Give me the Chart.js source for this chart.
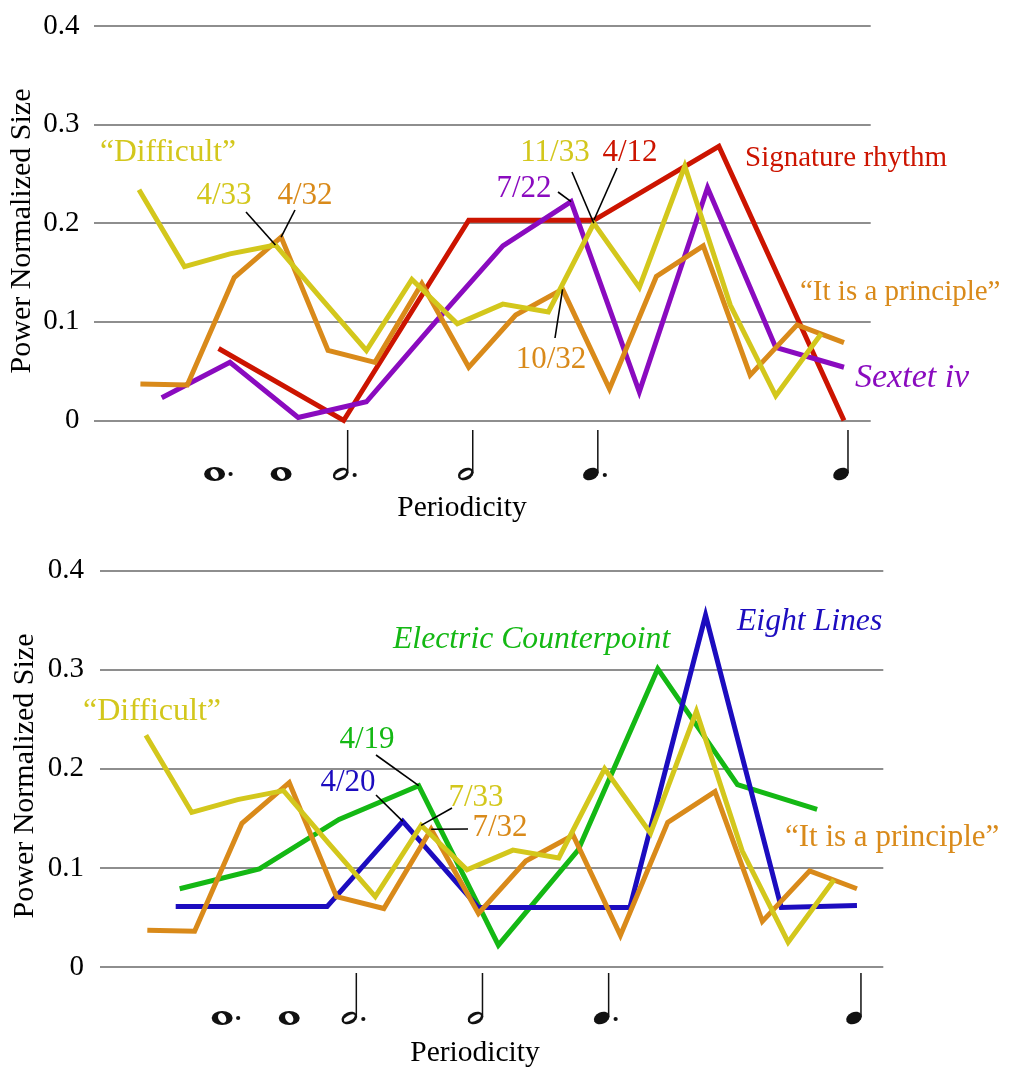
<!DOCTYPE html>
<html><head><meta charset="utf-8">
<script src="https://cdn.jsdelivr.net/npm/chart.js@4.4.0/dist/chart.umd.min.js"></script>
<style>
html,body{margin:0;padding:0;background:#fff;}
#wrap{position:relative;width:1024px;height:1068px;overflow:hidden;}
.box{position:absolute;left:0;width:1024px;height:534px;}
</style></head><body>
<div id="wrap">
<div class="box" style="top:0"><canvas id="c1" width="1024" height="534"></canvas></div>
<div class="box" style="top:534px"><canvas id="c2" width="1024" height="534"></canvas></div>
</div>
<script>
// ---------- data ----------
const yTickLabels = ['0', '0.1', '0.2', '0.3', '0.4'];
// each series: power at frequency index k/N (k = 1..), periodicity axis value = 2k/N
const difficultN = 33;
const difficultVals = [0.234, 0.156, 0.169, 0.178, 0.124, 0.071, 0.143, 0.098, 0.118, 0.110, 0.200, 0.135, 0.258, 0.117, 0.025, 0.088];
const principleN = 32;
const principleVals = [0.037, 0.036, 0.145, 0.186, 0.071, 0.059, 0.139, 0.054, 0.107, 0.133, 0.032, 0.146, 0.177, 0.046, 0.097, 0.079];
const signatureN = 12;
const signatureVals = [0.073, 0.0, 0.203, 0.203, 0.278, 0.0];
const sextetN = 22;
const sextetVals = [0.023, 0.059, 0.003, 0.019, 0.099, 0.177, 0.222, 0.029, 0.236, 0.074, 0.054];
const electricN = 19;
const electricVals = [0.079, 0.099, 0.149, 0.183, 0.022, 0.118, 0.301, 0.184, 0.159];
const eightN = 20;
const eightVals = [0.061, 0.061, 0.061, 0.147, 0.060, 0.060, 0.060, 0.355, 0.060, 0.062];
// note symbols on the periodicity axis
const noteFreqs = [1/6, 1/4, 1/3, 1/2, 2/3, 1];
const noteKinds = ['dottedWhole', 'whole', 'dottedHalf', 'half', 'dottedQuarter', 'quarter'];

// ---------- styles ----------
const YEL = '#d3c71c', ORG = '#d98a1a', RED = '#cc1400', PUR = '#8a0bbf', GRN = '#14b814', BLU = '#1c0cbf';
const FONT = "'Liberation Serif', 'Times New Roman', serif";
Chart.defaults.font.family = FONT;

function pts(N, vals) { return vals.map((v, i) => ({ x: 2 * (i + 1) / N, y: v })); }
function ds(label, color, N, vals) {
  return { label, data: pts(N, vals), borderColor: color, backgroundColor: color, borderWidth: 5,
    pointRadius: 0, tension: 0, borderJoinStyle: 'miter', borderCapStyle: 'butt', clip: false, fill: false };
}

function drawNote(ctx, kind, fx, headY, stemTop) {
  ctx.save();
  ctx.fillStyle = '#111'; ctx.strokeStyle = '#111';
  const stemmed = !(kind === 'whole' || kind === 'dottedWhole');
  if (!stemmed) {
    const cx = kind === 'dottedWhole' ? fx - 4 : fx;
    ctx.beginPath(); ctx.ellipse(cx, headY, 10.5, 7, 0, 0, Math.PI * 2); ctx.fill();
    ctx.fillStyle = '#fff';
    ctx.beginPath(); ctx.ellipse(cx, headY, 3.8, 5.2, -0.5, 0, Math.PI * 2); ctx.fill();
    if (kind === 'dottedWhole') { ctx.fillStyle = '#111'; ctx.beginPath(); ctx.arc(cx + 16, headY, 2.1, 0, Math.PI * 2); ctx.fill(); }
  } else {
    const stemX = fx + 4;
    const cx = stemX - 7, cy = headY;
    ctx.beginPath(); ctx.ellipse(cx, cy, 8.2, 5.8, -0.45, 0, Math.PI * 2); ctx.fill();
    if (kind === 'half' || kind === 'dottedHalf') {
      ctx.fillStyle = '#fff';
      ctx.beginPath(); ctx.ellipse(cx, cy, 6, 2.7, -0.5, 0, Math.PI * 2); ctx.fill();
      ctx.fillStyle = '#111';
    }
    ctx.lineWidth = 1.5;
    ctx.beginPath(); ctx.moveTo(stemX, cy - 1); ctx.lineTo(stemX, stemTop); ctx.stroke();
    if (kind.startsWith('dotted')) { ctx.beginPath(); ctx.arc(stemX + 7, cy + 1, 2.1, 0, Math.PI * 2); ctx.fill(); }
  }
  ctx.restore();
}

const annotPlugin = {
  id: 'annot',
  afterDatasetsDraw(chart, args, o) {
    const ctx = chart.ctx;
    ctx.save();
    (o.leaders || []).forEach(l => {
      const p = chart.getDatasetMeta(l.ds).data[l.idx];
      ctx.beginPath(); ctx.moveTo(l.from[0], l.from[1]); ctx.lineTo(p.x, p.y);
      ctx.strokeStyle = '#000'; ctx.lineWidth = 1.6; ctx.stroke();
    });
    (o.labels || []).forEach(t => {
      ctx.font = (t.italic ? 'italic ' : '') + t.size + 'px ' + FONT;
      ctx.fillStyle = t.color; ctx.textAlign = t.align || 'center'; ctx.textBaseline = 'middle';
      ctx.fillText(t.text, t.x, t.y);
    });
    // axis titles
    ctx.fillStyle = '#000'; ctx.font = '29.5px ' + FONT; ctx.textAlign = 'center'; ctx.textBaseline = 'middle';
    ctx.fillText('Periodicity', o.xTitle[0], o.xTitle[1]);
    ctx.save(); ctx.translate(o.yTitle[0], o.yTitle[1]); ctx.rotate(-Math.PI / 2);
    ctx.font = '30px ' + FONT;
    ctx.fillText('Power Normalized Size', 0, 0); ctx.restore();
    // notes
    const xs = chart.scales.x;
    noteFreqs.forEach((f, i) => drawNote(ctx, noteKinds[i], xs.getPixelForValue(f), o.noteY, o.stemTop));
    ctx.restore();
  }
};

function makeChart(id, datasets, geo, annot) {
  return new Chart(document.getElementById(id), {
    type: 'line',
    data: { datasets },
    plugins: [annotPlugin],
    options: {
      responsive: false, animation: false, devicePixelRatio: 1,
      layout: { padding: { left: 0, right: geo.right, top: geo.top, bottom: geo.bottom } },
      plugins: { legend: { display: false }, tooltip: { enabled: false }, annot },
      scales: {
        x: { type: 'linear', min: 0, max: geo.xmax, display: false },
        y: {
          type: 'linear', min: 0, max: 0.4,
          afterFit: s => { s.width = geo.left; s.paddingTop = 0; s.paddingBottom = 0; },
          border: { display: false },
          grid: { color: '#8e8e8e', lineWidth: 2, drawTicks: false },
          ticks: { stepSize: 0.1, padding: geo.tickPad, color: '#000', font: { size: 29, family: FONT, lineHeight: 1 },
            callback: (v, i) => yTickLabels[i] }
        }
      }
    }
  });
}

// top chart
makeChart('c1', [
  ds('“Difficult”', YEL, difficultN, difficultVals),
  ds('“It is a principle”', ORG, principleN, principleVals),
  ds('Sextet iv', PUR, sextetN, sextetVals),
  ds('Signature rhythm', RED, signatureN, signatureVals)
], { left: 93.5, right: 153.3, top: 26, bottom: 113.5, xmax: 1.0356, tickPad: 14 }, {
  xTitle: [462, 508], yTitle: [22, 231], noteY: 474, stemTop: 430,
  labels: [
    { text: '“Difficult”', x: 168, y: 153, color: YEL, size: 31.5 },
    { text: '4/33', x: 224, y: 196, color: YEL, size: 31 },
    { text: '4/32', x: 305, y: 196, color: ORG, size: 31 },
    { text: '11/33', x: 555, y: 153, color: YEL, size: 31 },
    { text: '4/12', x: 630, y: 153, color: RED, size: 31 },
    { text: '7/22', x: 524, y: 189, color: PUR, size: 31 },
    { text: '10/32', x: 551, y: 360, color: ORG, size: 31 },
    { text: 'Signature rhythm', x: 745, y: 158, color: RED, size: 29, align: 'left' },
    { text: '“It is a principle”', x: 800, y: 292, color: ORG, size: 29, align: 'left' },
    { text: 'Sextet iv', x: 855, y: 378, color: PUR, size: 34, italic: true, align: 'left' }
  ],
  leaders: [
    { from: [246, 212], ds: 0, idx: 3 },
    { from: [295, 210], ds: 1, idx: 3 },
    { from: [558, 192], ds: 2, idx: 6 },
    { from: [572, 172], ds: 0, idx: 10 },
    { from: [617, 168], ds: 3, idx: 3 },
    { from: [555, 338], ds: 1, idx: 9 }
  ]
});

// bottom chart
makeChart('c2', [
  ds('“Difficult”', YEL, difficultN, difficultVals),
  ds('“It is a principle”', ORG, principleN, principleVals),
  ds('Eight Lines', BLU, eightN, eightVals),
  ds('Electric Counterpoint', GRN, electricN, electricVals)
], { left: 100, right: 140.7, top: 36.7, bottom: 101, xmax: 1.0348, tickPad: 16 }, {
  xTitle: [475, 519], yTitle: [25, 242], noteY: 484, stemTop: 439,
  labels: [
    { text: '“Difficult”', x: 152, y: 178, color: YEL, size: 32 },
    { text: 'Electric Counterpoint', x: 393, y: 106, color: GRN, size: 31.7, italic: true, align: 'left' },
    { text: 'Eight Lines', x: 737, y: 88, color: BLU, size: 31.7, italic: true, align: 'left' },
    { text: '4/19', x: 367, y: 206, color: GRN, size: 31 },
    { text: '4/20', x: 348, y: 249, color: BLU, size: 31 },
    { text: '7/33', x: 476, y: 264, color: YEL, size: 31 },
    { text: '7/32', x: 500, y: 294, color: ORG, size: 31 },
    { text: '“It is a principle”', x: 785, y: 304, color: ORG, size: 31, align: 'left' }
  ],
  leaders: [
    { from: [376, 221], ds: 3, idx: 3 },
    { from: [376, 261], ds: 2, idx: 3 },
    { from: [452, 274], ds: 0, idx: 6 },
    { from: [468, 295], ds: 1, idx: 6 }
  ]
});
</script>
</body></html>
